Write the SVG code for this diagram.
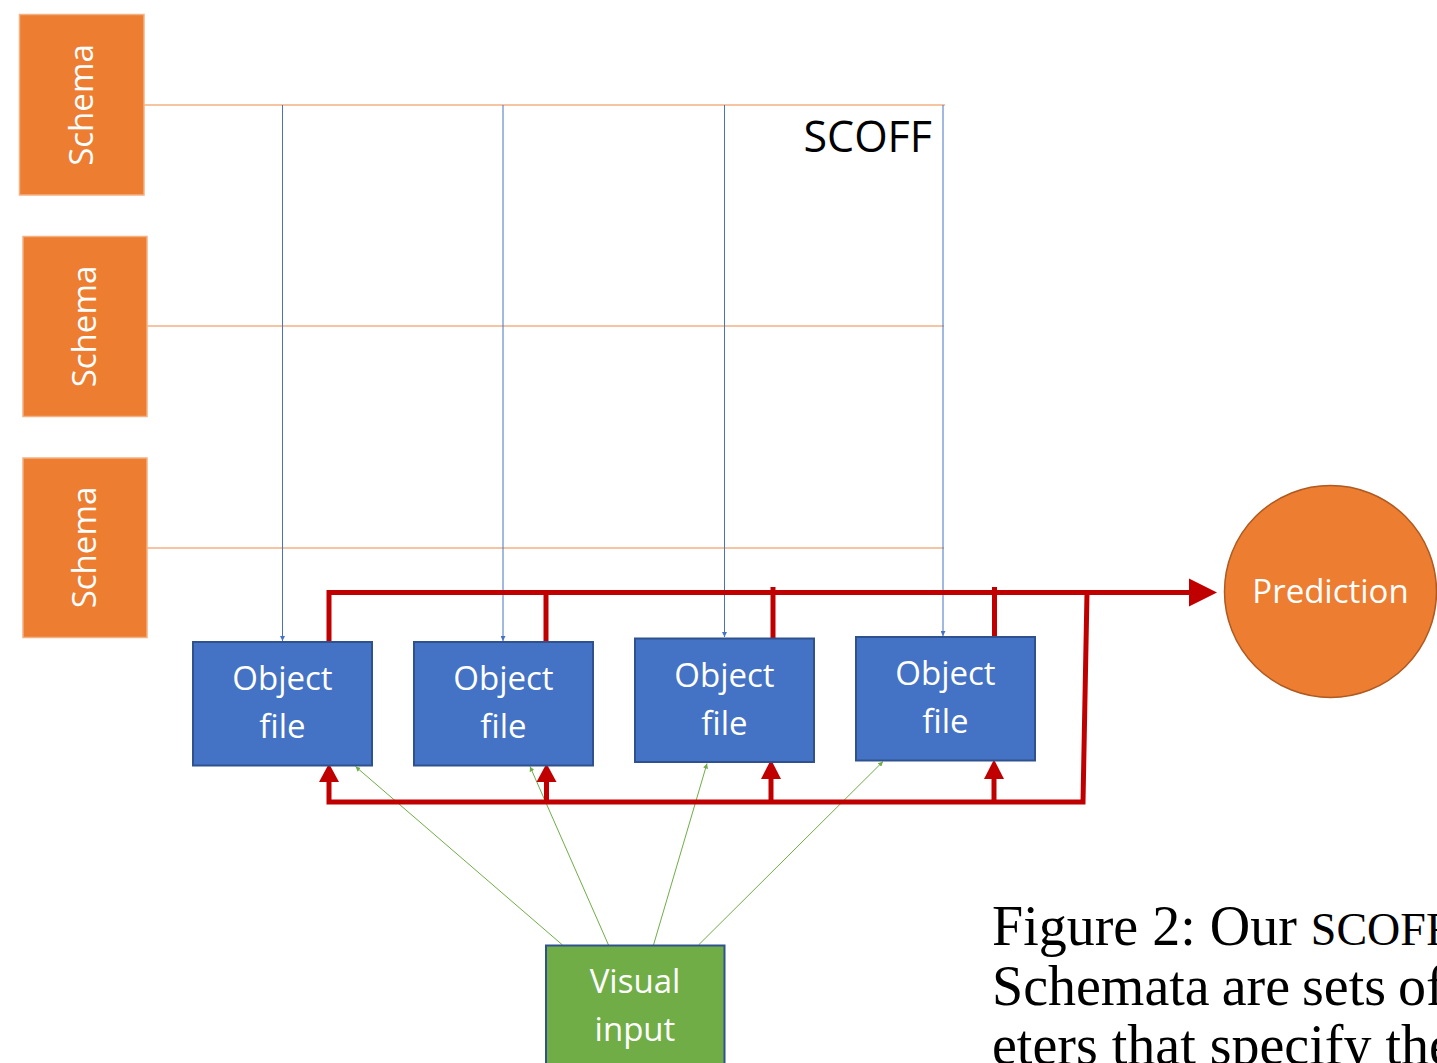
<svg xmlns="http://www.w3.org/2000/svg" width="1437" height="1063" viewBox="0 0 1437 1063">
<defs>
<style>
.schema{fill:#ED7D31;stroke:#F4B183;stroke-width:1.5}
.of{fill:#4472C4;stroke:#2F528F;stroke-width:2}
.lbl{font-family:"Open Sans","Noto Sans",sans-serif;font-size:33px;fill:#FFFFFF;text-anchor:middle}
.row{stroke:#F4B183;stroke-width:1.5;fill:none}
.col{stroke:#4472C4;stroke-width:1;fill:none}
.red{stroke:#C00000;stroke-width:5;fill:none}
.grn{stroke:#70AD47;stroke-width:1;fill:none}
.cap{font-family:"Liberation Serif","Times New Roman",serif;font-size:56px;fill:#000000}
</style>
<marker id="ab" viewBox="0 0 10 10" refX="10" refY="5" markerWidth="5" markerHeight="5" markerUnits="userSpaceOnUse" orient="auto"><path d="M0,0 L10,5 L0,10 z" fill="#4472C4"/></marker>
<marker id="ag" viewBox="0 0 10 10" refX="10" refY="5" markerWidth="5" markerHeight="5" markerUnits="userSpaceOnUse" orient="auto"><path d="M0,0 L10,5 L0,10 z" fill="#70AD47"/></marker>
</defs>
<rect width="1437" height="1063" fill="#FFFFFF"/>

<g id="connectors">
<line class="row" x1="144" y1="105" x2="945" y2="105"/>
<line class="row" x1="147" y1="326" x2="944" y2="326"/>
<line class="row" x1="147" y1="548" x2="944" y2="548"/>
<line class="col" x1="282.5" y1="105" x2="282.5" y2="641" marker-end="url(#ab)"/>
<line class="col" x1="503" y1="105" x2="503" y2="641" marker-end="url(#ab)"/>
<line class="col" x1="724.5" y1="105" x2="724.5" y2="637" marker-end="url(#ab)"/>
<line class="col" x1="943" y1="105" x2="943" y2="636" marker-end="url(#ab)"/>
<line class="grn" x1="562.5" y1="945" x2="355.5" y2="766.5" marker-end="url(#ag)"/>
<line class="grn" x1="608.5" y1="945" x2="530" y2="766.5" marker-end="url(#ag)"/>
<line class="grn" x1="653.5" y1="945" x2="707" y2="763.5" marker-end="url(#ag)"/>
<line class="grn" x1="698.5" y1="945" x2="883" y2="761.5" marker-end="url(#ag)"/>
<path class="red" d="M329,642 L329,592.5 L1190,592.5"/>
<line class="red" x1="546" y1="642" x2="546" y2="592"/>
<line class="red" x1="773" y1="638" x2="773" y2="587"/>
<line class="red" x1="994.5" y1="637" x2="994.5" y2="587"/>
<path class="red" d="M1087,592.5 L1083,802 L329,802 L329,781"/>
<line class="red" x1="546.5" y1="802" x2="546.5" y2="781"/>
<line class="red" x1="771" y1="802" x2="771" y2="778"/>
<line class="red" x1="994" y1="802" x2="994" y2="778"/>
<path d="M1189,578.5 L1217,592.5 L1189,606.5 z" fill="#C00000"/>
<path d="M319,782 L329,763.5 L339,782 z" fill="#C00000"/>
<path d="M536.5,782 L546.5,763.5 L556.5,782 z" fill="#C00000"/>
<path d="M761,779 L771,759.5 L781,779 z" fill="#C00000"/>
<path d="M984,779 L994,759.5 L1004,779 z" fill="#C00000"/>
</g>

<g id="schema1"><rect class="schema" x="19.5" y="14.5" width="124.5" height="180.5"/><text class="lbl" transform="translate(93,105) rotate(-90)">Schema</text></g>
<g id="schema2"><rect class="schema" x="23" y="236.5" width="124" height="180"/><text class="lbl" transform="translate(96,326.5) rotate(-90)">Schema</text></g>
<g id="schema3"><rect class="schema" x="23" y="458" width="124" height="179.5"/><text class="lbl" transform="translate(96,547.5) rotate(-90)">Schema</text></g>

<text id="scoff" x="932" y="152" font-family="'Open Sans','Noto Sans',sans-serif" font-size="43" fill="#000000" text-anchor="end">SCOFF</text>

<g id="objectfile1"><rect class="of" x="193" y="642" width="179" height="123.5"/><text class="lbl" x="282.5" y="690">Object</text><text class="lbl" x="282.5" y="738">file</text></g>
<g id="objectfile2"><rect class="of" x="414" y="642" width="179" height="123.5"/><text class="lbl" x="503.5" y="690">Object</text><text class="lbl" x="503.5" y="738">file</text></g>
<g id="objectfile3"><rect class="of" x="635" y="638.5" width="179" height="123.5"/><text class="lbl" x="724.5" y="686.5">Object</text><text class="lbl" x="724.5" y="734.5">file</text></g>
<g id="objectfile4"><rect class="of" x="856" y="637" width="179" height="123.5"/><text class="lbl" x="945.5" y="685">Object</text><text class="lbl" x="945.5" y="733">file</text></g>

<g id="prediction"><circle cx="1330.5" cy="591.5" r="106" fill="#ED7D31" stroke="#AE5A21" stroke-width="1.5"/><text class="lbl" x="1330.5" y="603">Prediction</text></g>

<g id="visualinput"><rect x="546" y="945.5" width="178.5" height="130" fill="#70AD47" stroke="#2F528F" stroke-width="2"/><text class="lbl" x="635" y="993">Visual</text><text class="lbl" x="635" y="1041">input</text></g>

<g id="caption">
<text class="cap" x="992" y="945">Figure 2: Our <tspan font-size="46">SCOFF</tspan></text>
<text class="cap" x="992" y="1005" word-spacing="-2">Schemata are sets of</text>
<text class="cap" x="992" y="1064">eters that specify the</text>
</g>
</svg>
